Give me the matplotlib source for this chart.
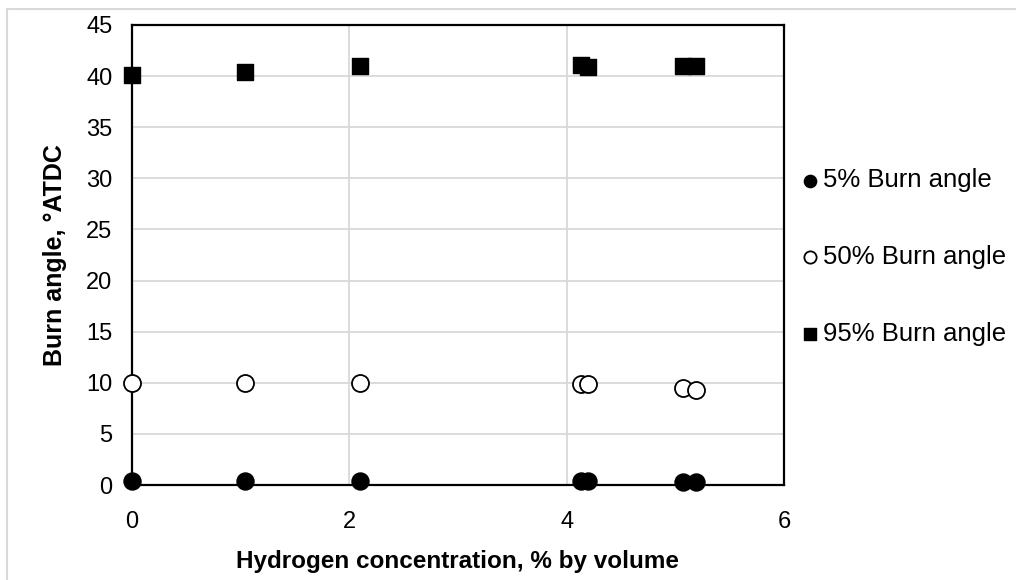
import matplotlib.pyplot as plt
from matplotlib.lines import Line2D

plt.rcParams['font.family'] = ['Liberation Sans', 'DejaVu Sans']

# hydrogen concentration, % by volume
h2 = [0.0, 1.04, 2.10, 4.13, 4.20, 5.07, 5.19]
burn5 = [0.4, 0.4, 0.35, 0.35, 0.35, 0.3, 0.3]
burn50 = [10.0, 10.0, 9.95, 9.85, 9.9, 9.45, 9.3]
burn95 = [40.1, 40.4, 41.0, 41.1, 40.9, 41.0, 41.0]

labels = ['5% Burn angle', '50% Burn angle', '95% Burn angle']

fig = plt.figure(figsize=(10.16, 5.8), dpi=100)
ax = fig.add_axes([132 / 1016, 1 - 485 / 580, (784 - 132) / 1016, (485 - 25) / 580])

ax.scatter(h2, burn5, marker='o', s=150, color='black', label=labels[0], zorder=3, clip_on=False)
ax.scatter(h2, burn50, marker='o', s=150, facecolor='white', edgecolor='black',
           linewidths=1.3, label=labels[1], zorder=3, clip_on=False)
ax.scatter(h2, burn95, marker='s', s=135, color='black', label=labels[2], zorder=3, clip_on=False)

ax.set_xlim(0, 6)
ax.set_ylim(0, 45)
ax.set_xticks(range(0, 7, 2))
ax.set_yticks(range(0, 46, 5))
ax.grid(True, color='#d9d9d9', linewidth=1.3)
ax.set_axisbelow(True)
for sp in ax.spines.values():
    sp.set_color('black')
    sp.set_linewidth(1.6)
ax.tick_params(length=0, labelsize=17)
ax.tick_params(axis='x', pad=19)
ax.tick_params(axis='y', pad=14)

ax.set_xlabel('Hydrogen concentration, % by volume', fontsize=17.5, fontweight='bold', labelpad=12)
ax.set_ylabel('Burn angle, \u00b0ATDC', fontsize=18, fontweight='bold', labelpad=14)

ax.legend(loc='center left', bbox_to_anchor=(800 / 1016, 1 - 257 / 580),
          bbox_transform=fig.transFigure, frameon=False, borderpad=0, borderaxespad=0,
          fontsize=18.5, labelspacing=2.05, handletextpad=0.1, markerscale=0.72,
          handlelength=0.8)

# light outer chart border (top and left visible)
fig.add_artist(Line2D([7 / 1016, 1], [1 - 9 / 580, 1 - 9 / 580], transform=fig.transFigure,
                      color='#d9d9d9', linewidth=1.5))
fig.add_artist(Line2D([7 / 1016, 7 / 1016], [0, 1 - 9 / 580], transform=fig.transFigure,
                      color='#d9d9d9', linewidth=1.5))

fig.savefig('out.png', dpi=100)
